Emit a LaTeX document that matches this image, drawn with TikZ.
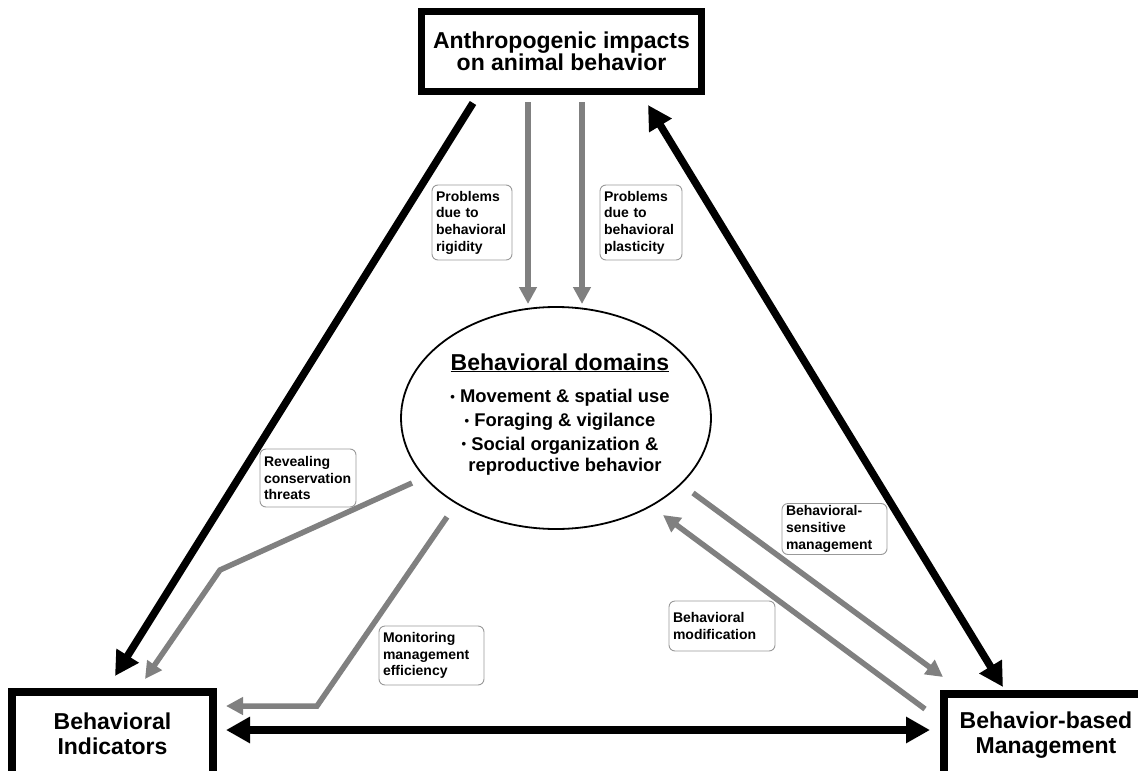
\documentclass[tikz,border=0pt]{standalone}
\usepackage{fontspec}
\setmainfont{Liberation Sans}
\usetikzlibrary{arrows.meta,shapes.geometric}
\hyphenpenalty=10000
\newcommand{\smallbul}{\raisebox{1.2pt}{\fontsize{13}{13}\selectfont•}}
\begin{document}
\begin{tikzpicture}[x=1pt,y=-1pt,
  mainbox/.style={draw, line width=7.5pt, align=center, inner sep=0pt},
  lbl/.style={draw=black!40, line width=0.9pt, rounded corners=6pt, align=left,
    inner xsep=4pt, inner ysep=2pt, font=\fontsize{14}{16.7}\selectfont\bfseries},
  garrow/.style={draw=black!50, line width=5.5pt, line join=miter, -{Triangle[length=17pt,width=17pt]}},
  barrow/.style={draw=black, line width=7.5pt, -{Triangle[length=24pt,width=25pt]}},
  barrowb/.style={draw=black, line width=7.5pt, {Triangle[length=24pt,width=25pt]}-{Triangle[length=24pt,width=25pt]}},
  domtitle/.style={anchor=base, font=\fontsize{23}{26}\selectfont\bfseries},
  domitem/.style={anchor=base, font=\fontsize{18.4}{22}\selectfont\bfseries}]
\useasboundingbox (0,0) rectangle (1138,771);
\fill[white] (0,0) rectangle (1138,771);

% main boxes
\node[mainbox, minimum width=280pt, minimum height=80pt,
  font=\fontsize{23}{21.7}\selectfont\bfseries] (top) at (561.5,51.5)
  {Anthropogenic impacts\\on animal behavior};
\node[mainbox, minimum width=201pt, minimum height=84pt,
  font=\fontsize{23}{25}\selectfont\bfseries] (ind) at (112.5,734)
  {Behavioral\\Indicators};
\node[mainbox, minimum width=204pt, minimum height=82pt,
  font=\fontsize{23}{25}\selectfont\bfseries] (man) at (1046,735)
  {Behavior-based\\Management};

% ellipse
\node[draw, ellipse, line width=1.8pt, minimum width=310pt, minimum height=222pt, inner sep=0pt] (dom) at (556,418) {};
\node[domtitle] (t0) at (560,370) {\underline{Behavioral domains}};
\node[domitem] (t1) at (560,402.7) {\smallbul{} Movement \& spatial use};
\node[domitem] (t2) at (560,426.7) {\smallbul{} Foraging \& vigilance};
\node[domitem] (t3) at (560,450) {\smallbul{} Social organization \&};
\node[domitem] (t4) at (565,471.7) {reproductive behavior};

% labels
\node[lbl, text width=72pt, minimum height=75pt] (l1) at (472,222.5) {Problems\\due to\\behavioral\\rigidity};
\node[lbl, text width=74pt, minimum height=75pt] (l2) at (641,222.5) {Problems\\due to\\behavioral\\plasticity};
\node[lbl, text width=88pt, minimum height=58pt] (l3) at (308,478) {Revealing\\conservation\\threats};
\node[lbl, text width=97pt, minimum height=59pt] (l4) at (431.5,655.5) {Monitoring\\management\\efficiency};
\node[lbl, text width=97pt, minimum height=51pt] (l5) at (834.5,529) {Behavioral-\\sensitive\\management};
\node[lbl, text width=98pt, minimum height=50pt] (l6) at (722,626) {Behavioral\\modification};

% connector end points
\coordinate (g1s) at (528,102);  \coordinate (g1e) at (528,304);
\coordinate (g2s) at (582,102);  \coordinate (g2e) at (582,304);
\coordinate (g3s) at (412,483);  \coordinate (g3b) at (220,570); \coordinate (g3e) at (145,679);
\coordinate (g4s) at (447,517);  \coordinate (g4b) at (317,706); \coordinate (g4e) at (226,706);
\coordinate (g5s) at (693,493);  \coordinate (g5e) at (943,677);
\coordinate (g6s) at (925,709);  \coordinate (g6e) at (663,515);
\coordinate (b1s) at (473,103);  \coordinate (b1e) at (115,676);
\coordinate (b2s) at (1003,687); \coordinate (b2e) at (648,105);
\coordinate (b3s) at (226,730);  \coordinate (b3e) at (930,730);

% gray arrows
\draw[garrow] (g1s) -- (g1e);
\draw[garrow] (g2s) -- (g2e);
\draw[garrow] (g3s) -- (g3b) -- (g3e);
\draw[garrow] (g4s) -- (g4b) -- (g4e);
\draw[garrow] (g5s) -- (g5e);
\draw[garrow] (g6s) -- (g6e);

% black arrows
\draw[barrow] (b1s) -- (b1e);
\draw[barrowb] (b2s) -- (b2e);
\draw[barrowb] (b3s) -- (b3e);
\end{tikzpicture}
\end{document}
